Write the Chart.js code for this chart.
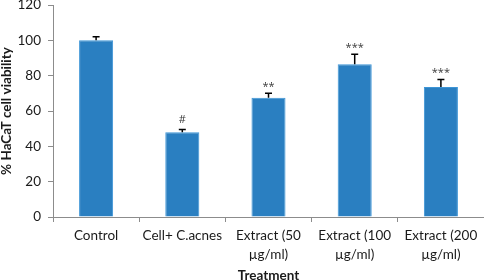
<!DOCTYPE html>
<html>
<head>
<meta charset="utf-8">
<script src="https://cdn.jsdelivr.net/npm/chart.js@4"></script>
<style>
html,body{margin:0;padding:0;background:#fff;}
#wrap{width:484px;height:280px;position:relative;}
</style>
</head>
<body>
<div id="wrap"><canvas id="c" width="484" height="280"></canvas></div>
<script>
const categories = [["Control"], ["Cell+ C.acnes"], ["Extract (50", "µg/ml)"], ["Extract (100", "µg/ml)"], ["Extract (200", "µg/ml)"]];
const viability = [100, 48, 67.5, 86.4, 73.6];
const errors = [2, 1.5, 2.6, 5.7, 4.3];
const significance = ["", "#", "**", "***", "***"];
const yTicks = [0, 20, 40, 60, 80, 100, 120];

const FONT = "Lato, 'Open Sans', sans-serif";
const MARK_FONT = "'Open Sans', sans-serif";
const TEXT = '#1a1a1a';
const AXIS = '#8c8c8c';

const errorBarPlugin = {
  id: 'errorBars',
  afterDatasetsDraw(chart) {
    const ctx = chart.ctx;
    const meta = chart.getDatasetMeta(0);
    const y = chart.scales.y;
    ctx.save();
    meta.data.forEach((bar, i) => {
      const top = y.getPixelForValue(viability[i] + errors[i]);
      const base = y.getPixelForValue(viability[i]);
      ctx.strokeStyle = '#000';
      ctx.lineWidth = 1.5;
      ctx.beginPath();
      ctx.moveTo(bar.x, base);
      ctx.lineTo(bar.x, top);
      ctx.moveTo(bar.x - 3.5, top);
      ctx.lineTo(bar.x + 3.5, top);
      ctx.stroke();
      if (significance[i]) {
        ctx.fillStyle = '#3a3a3a';
        ctx.font = "11px " + MARK_FONT;
        ctx.textAlign = 'center';
        ctx.textBaseline = 'alphabetic';
        ctx.fillText(significance[i], bar.x, top - (significance[i] === '#' ? 7 : 3));
      }
    });
    ctx.restore();
  }
};

new Chart(document.getElementById('c'), {
  type: 'bar',
  data: {
    labels: categories,
    datasets: [{
      data: viability,
      backgroundColor: '#2a7fc1',
      borderColor: '#3d95d6',
      borderWidth: 1,
      categoryPercentage: 1,
      barPercentage: 0.395
    }]
  },
  options: {
    responsive: false,
    animation: false,
    devicePixelRatio: 1,
    layout: { padding: { top: 5, left: 0, right: 0, bottom: 0 } },
    plugins: { legend: { display: false }, tooltip: { enabled: false } },
    scales: {
      x: {
        grid: { offset: true, drawOnChartArea: false, drawTicks: true, tickLength: 5, color: AXIS },
        border: { color: AXIS },
        ticks: { color: TEXT, font: { family: FONT, size: 13.5, lineHeight: 1.42 }, padding: 4, maxRotation: 0, autoSkip: false },
        title: { display: true, text: 'Treatment', color: TEXT, font: { family: FONT, size: 13.5, weight: 'bold', lineHeight: 1 }, padding: { top: 0, bottom: -2 } },
        afterFit(s) { s.height = 63; s.paddingLeft = 0; s.paddingRight = 0; }
      },
      y: {
        min: 0, max: 120,
        afterBuildTicks(s) { s.ticks = yTicks.map(v => ({ value: v })); },
        grid: { drawOnChartArea: false, drawTicks: true, tickLength: 5, color: AXIS },
        border: { color: AXIS },
        ticks: { color: TEXT, font: { family: FONT, size: 13.5 }, padding: 7 },
        title: { display: true, text: '% HaCaT cell viability', color: TEXT, font: { family: FONT, size: 13.5, weight: 'bold', lineHeight: 1 }, padding: 0 },
        afterFit(s) { s.width = 53; s.paddingTop = 0; s.paddingBottom = 0; }
      }
    }
  },
  plugins: [errorBarPlugin]
});
</script>
</body>
</html>
